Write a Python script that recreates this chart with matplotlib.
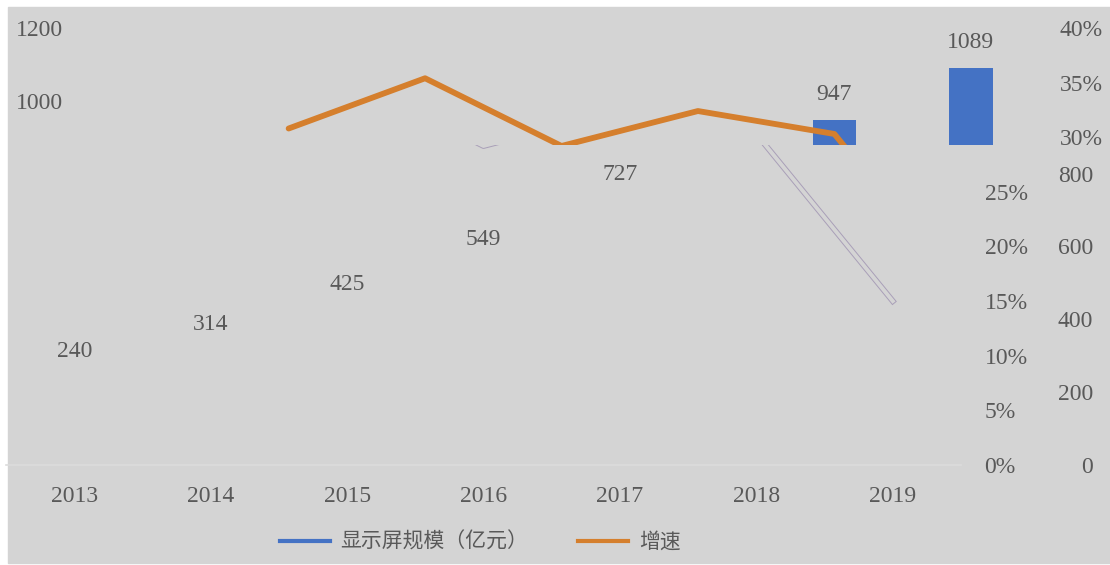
import matplotlib
matplotlib.use('Agg')
import matplotlib.pyplot as plt
from matplotlib.lines import Line2D
from matplotlib.patches import Rectangle

# ---- data ----
years = ['2013', '2014', '2015', '2016', '2017', '2018', '2019']
scale_values = [240, 314, 425, 549, 727, 947, 1089]          # 显示屏规模（亿元）
growth_years = ['2014', '2015', '2016', '2017', '2018', '2019']
growth_pct = [30.8, 35.4, 29.2, 32.4, 30.3, 15.0]             # 增速 (%)
value_ticks = [0, 200, 400, 600, 800, 1000, 1200]
pct_ticks = [0, 5, 10, 15, 20, 25, 30, 35, 40]
legend_labels = ['显示屏规模（亿元）', '增速']

# ---- style ----
BG = '#d4d4d4'
BLUE = '#4472C4'
ORANGE = '#D57F2D'
TXT = '#595959'
plt.rcParams['font.family'] = ['Liberation Serif', 'Noto Sans CJK SC', 'DejaVu Sans']
plt.rcParams['font.size'] = 17

W, H = 1110, 565
fig = plt.figure(figsize=(W / 100, H / 100), dpi=100)
fig.patch.set_facecolor('white')
fig.add_artist(Rectangle((8 / W, 1 - 563 / H), (W - 8) / W, (563 - 7) / H,
                         transform=fig.transFigure, color=BG, zorder=0))

def rect(x0, y0, x1, y1):
    return [x0 / W, 1 - y1 / H, (x1 - x0) / W, (y1 - y0) / H]

PX = 437 / 1200.0              # pixels per value unit
split_val = (465 - 145) / PX   # value at the strip boundary
top_val = (465 - 7) / PX
VAL_PER_PCT = 30.0             # 1200 <-> 40%

xs = list(range(len(years)))
gx = [years.index(y) for y in growth_years]

def clean(ax):
    ax.set_facecolor('none')
    for s in ax.spines.values():
        s.set_visible(False)

# ---------- lower part ----------
axB = fig.add_axes(rect(6, 145, 961, 465))
axBp = axB.twinx()
clean(axB)
clean(axBp)
axB.set_xlim(-0.5, len(years) - 0.5)
axB.set_ylim(0, split_val)
axB.spines['bottom'].set_visible(True)
axB.spines['bottom'].set_color('#dcdcdc')
axB.spines['bottom'].set_linewidth(1.2)
axB.set_xticks(xs, years, color=TXT)
axB.tick_params(axis='x', length=0, pad=15)
bt = [v for v in value_ticks if v <= split_val]
axB.yaxis.tick_right()
axB.set_yticks(bt, [str(v) for v in bt], color=TXT, ha='right')
axB.tick_params(axis='y', length=0, pad=95, left=False, labelleft=False,
                right=False, labelright=True)
for x, v in zip(xs, scale_values):
    axB.annotate(str(v), (x, v), xytext=(0, 11), textcoords='offset points',
                 ha='center', va='bottom', color=TXT)

axBp.set_ylim(0, split_val / VAL_PER_PCT)
bp = [p for p in pct_ticks if p <= split_val / VAL_PER_PCT]
axBp.set_yticks(bp, [f'{p}%' for p in bp], color=TXT)
axBp.tick_params(axis='y', length=0, pad=17)
axBp.plot(gx, growth_pct, color='#a99fb8', lw=4.2)
axBp.plot(gx, growth_pct, color=BG, lw=2.8)

# ---------- upper strip ----------
axT = fig.add_axes(rect(84, 7, 1039, 145))
axTp = axT.twinx()
clean(axT)
clean(axTp)
axT.set_xlim(-0.5, len(years) - 0.5)
axT.set_ylim(split_val, top_val)
axT.set_xticks([])
axT.bar(xs, scale_values, width=0.32, color=BLUE, zorder=2)
tt = [v for v in value_ticks if split_val <= v <= top_val]
axT.set_yticks(tt, [str(v) for v in tt], color=TXT)
axT.tick_params(axis='y', length=0, pad=15)
for x, v in zip(xs, scale_values):
    axT.annotate(str(v), (x, v), xytext=(0, 11), textcoords='offset points',
                 ha='center', va='bottom', color=TXT)

axTp.set_ylim(split_val / VAL_PER_PCT, top_val / VAL_PER_PCT)
tp = [p for p in pct_ticks if split_val / VAL_PER_PCT - 1 <= p <= top_val / VAL_PER_PCT]
axTp.set_yticks(tp, [f'{p}%' for p in tp], color=TXT)
axTp.tick_params(axis='y', length=0, pad=15)
axTp.plot(gx, growth_pct, color=ORANGE, lw=4.2, solid_capstyle='round', zorder=3)

# ---------- legend ----------
handles = [Line2D([], [], color=BLUE, lw=3), Line2D([], [], color=ORANGE, lw=3)]
fig.legend(handles, legend_labels, loc='center left',
           bbox_to_anchor=(280 / W, 1 - 542 / H), ncol=2, frameon=False,
           borderaxespad=0, borderpad=0, handlelength=2.4, handletextpad=0.5,
           columnspacing=2.4, labelcolor=TXT,
           prop={'family': ['Noto Sans CJK SC', 'DejaVu Sans'], 'size': 15})

fig.savefig('out.png', dpi=100, facecolor=fig.get_facecolor())
